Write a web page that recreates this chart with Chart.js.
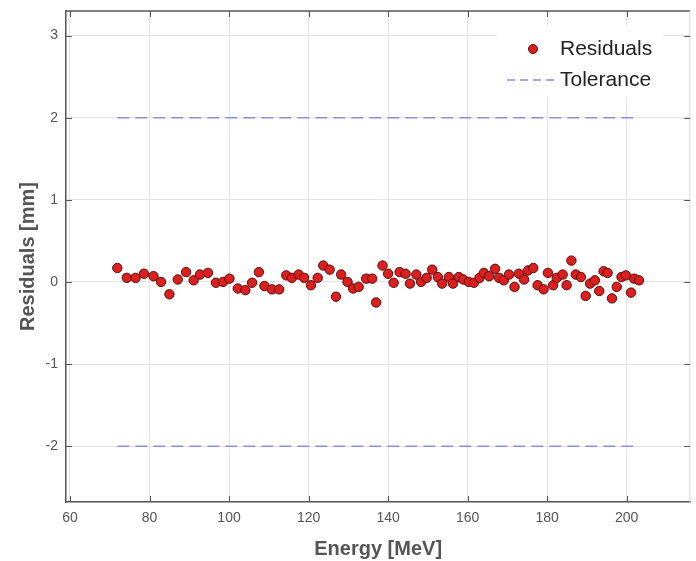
<!DOCTYPE html>
<html>
<head>
<meta charset="utf-8">
<script src="https://cdn.jsdelivr.net/npm/chart.js@4/dist/chart.umd.min.js"></script>
<style>
  html, body { margin: 0; padding: 0; background: #fff; }
  #wrap { width: 696px; height: 561px; position: relative; }
</style>
</head>
<body>
<div id="wrap"><canvas id="chart"></canvas></div>
<script>
// ---------- data ----------
const energy = [
  71.9, 74.3, 76.5, 78.6, 81.0, 82.9, 85.0, 87.1, 89.2, 91.1,
  92.7, 94.7, 96.7, 98.5, 100.1, 102.2, 104.1, 105.8, 107.5, 108.9,
  110.8, 112.6, 114.4, 115.8, 117.5, 118.9, 120.6, 122.3, 123.7, 125.3,
  126.9, 128.2, 129.8, 131.2, 132.6, 134.5, 136.0, 137.0, 138.6, 140.0,
  141.4, 142.9, 144.4, 145.5, 147.1, 148.3, 149.7, 151.1, 152.5, 153.6,
  155.3, 156.3, 157.8, 158.9, 160.3, 161.6, 163.0, 164.1, 165.4, 166.9,
  167.9, 169.1, 170.4, 171.8, 172.9, 174.2, 175.2, 176.5, 177.6, 179.1,
  180.2, 181.5, 182.4, 183.9, 184.9, 186.1, 187.2, 188.5, 189.7, 190.8,
  192.0, 193.1, 194.2, 195.2, 196.3, 197.5, 198.7, 199.8, 201.1, 201.9,
  203.1
];
const residuals = [
  0.17, 0.05, 0.05, 0.10, 0.07, 0.00, -0.15, 0.03, 0.12, 0.02,
  0.09, 0.11, -0.01, 0.00, 0.04, -0.08, -0.10, -0.01, 0.12, -0.05,
  -0.09, -0.09, 0.08, 0.05, 0.09, 0.05, -0.04, 0.05, 0.20, 0.15,
  -0.18, 0.09, 0.00, -0.08, -0.06, 0.04, 0.04, -0.25, 0.20, 0.10,
  -0.01, 0.12, 0.10, -0.02, 0.09, 0.00, 0.05, 0.15, 0.06, -0.02,
  0.06, -0.02, 0.06, 0.03, 0.00, -0.01, 0.05, 0.11, 0.07, 0.16,
  0.05, 0.02, 0.09, -0.06, 0.10, 0.03, 0.14, 0.17, -0.04, -0.09,
  0.11, -0.04, 0.05, 0.09, -0.04, 0.26, 0.09, 0.06, -0.17, -0.02,
  0.02, -0.11, 0.13, 0.11, -0.20, -0.06, 0.06, 0.08, -0.13, 0.04,
  0.02
];
const toleranceLimit = 2;
const toleranceSpan = [71.9, 203.1];
const xTicks = [60, 80, 100, 120, 140, 160, 180, 200];
const yTicks = [-2, -1, 0, 1, 2, 3];
const xRange = [59, 216];
const yRange = [-2.68, 3.3];

const FONT = "'Liberation Sans', Arial, Helvetica, sans-serif";
const AXIS_GREY = "#555";
const GRID_GREY = "#e3e3e3";
const TOL_COLOR = "#8a90d8";

// frame, inward tick marks and the in-plot legend (MATLAB look)
const framePlugin = {
  id: "frame",
  afterDraw(chart) {
    const { ctx, chartArea: a, scales } = chart;
    ctx.save();
    // top frame + faint right edge
    ctx.strokeStyle = AXIS_GREY;
    ctx.lineWidth = 1.5;
    ctx.beginPath();
    ctx.moveTo(a.left, a.top);
    ctx.lineTo(a.right, a.top);
    ctx.stroke();
    ctx.strokeStyle = "#d8d8d8";
    ctx.lineWidth = 1;
    ctx.beginPath();
    ctx.moveTo(a.right - 0.5, a.top);
    ctx.lineTo(a.right - 0.5, a.bottom);
    ctx.stroke();

    // inward ticks
    ctx.strokeStyle = AXIS_GREY;
    ctx.lineWidth = 1;
    ctx.beginPath();
    xTicks.forEach((v) => {
      const px = Math.round(scales.x.getPixelForValue(v)) + 0.5;
      ctx.moveTo(px, a.bottom); ctx.lineTo(px, a.bottom - 6);
      ctx.moveTo(px, a.top); ctx.lineTo(px, a.top + 6);
    });
    yTicks.forEach((v) => {
      const py = Math.round(scales.y.getPixelForValue(v)) + 0.5;
      ctx.moveTo(a.left, py); ctx.lineTo(a.left + 6, py);
      ctx.moveTo(a.right, py); ctx.lineTo(a.right - 6, py);
    });
    ctx.stroke();

    // legend box
    const bx = a.left + 431, by = a.top + 15, bw = 166, bh = 71;
    ctx.fillStyle = "#fff";
    ctx.fillRect(bx, by, bw, bh);

    ctx.beginPath();
    ctx.arc(bx + 36, by + 23, 4.5, 0, Math.PI * 2);
    ctx.fillStyle = "#dc1f1f";
    ctx.fill();
    ctx.strokeStyle = "#5a0a0a";
    ctx.lineWidth = 1;
    ctx.stroke();

    ctx.strokeStyle = TOL_COLOR;
    ctx.lineWidth = 1.5;
    ctx.setLineDash([8, 5]);
    ctx.beginPath();
    ctx.moveTo(bx + 10, by + 54);
    ctx.lineTo(bx + 60, by + 54);
    ctx.stroke();
    ctx.setLineDash([]);

    ctx.fillStyle = "#222";
    ctx.font = "21px " + FONT;
    ctx.textBaseline = "middle";
    ctx.textAlign = "left";
    ctx.fillText("Residuals", bx + 63, by + 23);
    ctx.fillText("Tolerance", bx + 63, by + 54);
    ctx.restore();
  },
};

new Chart(document.getElementById("chart"), {
  type: "scatter",
  data: {
    datasets: [
      {
        label: "Residuals",
        data: energy.map((e, i) => ({ x: e, y: residuals[i] })),
        backgroundColor: "#dc1f1f",
        borderColor: "#5a0a0a",
        borderWidth: 1,
        pointRadius: 4.7,
        order: 1,
      },
      {
        label: "Tolerance",
        type: "line",
        data: toleranceSpan.map((e) => ({ x: e, y: toleranceLimit })),
        borderColor: TOL_COLOR,
        borderWidth: 1.5,
        borderDash: [12, 6],
        pointRadius: 0,
        fill: false,
        order: 2,
      },
      {
        label: "Tolerance (lower)",
        type: "line",
        data: toleranceSpan.map((e) => ({ x: e, y: -toleranceLimit })),
        borderColor: TOL_COLOR,
        borderWidth: 1.5,
        borderDash: [12, 6],
        pointRadius: 0,
        fill: false,
        order: 2,
      },
    ],
  },
  options: {
    responsive: true,
    maintainAspectRatio: false,
    animation: false,
    layout: { padding: { top: 11, right: 3, left: 0, bottom: 0 } },
    plugins: {
      legend: { display: false },
      tooltip: { enabled: false },
    },
    scales: {
      x: {
        type: "linear",
        min: xRange[0],
        max: xRange[1],
        afterBuildTicks: (axis) => { axis.ticks = xTicks.map((v) => ({ value: v })); },
        afterFit: (axis) => { axis.height = 59; axis.paddingLeft = 0; axis.paddingRight = 0; },
        ticks: { color: AXIS_GREY, font: { family: FONT, size: 14 }, padding: 8, maxRotation: 0 },
        grid: { color: GRID_GREY, drawTicks: false },
        border: { color: AXIS_GREY, width: 1.5 },
        title: {
          display: true,
          text: "Energy [MeV]",
          color: AXIS_GREY,
          font: { family: FONT, size: 20, weight: "bold" },
          padding: { top: 4, bottom: 0 },
        },
      },
      y: {
        type: "linear",
        min: yRange[0],
        max: yRange[1],
        afterBuildTicks: (axis) => { axis.ticks = yTicks.map((v) => ({ value: v })); },
        afterFit: (axis) => { axis.width = 66; axis.paddingTop = 0; axis.paddingBottom = 0; },
        ticks: { color: AXIS_GREY, font: { family: FONT, size: 14 }, padding: 8 },
        grid: { color: GRID_GREY, drawTicks: false },
        border: { color: AXIS_GREY, width: 1.5 },
        title: {
          display: true,
          text: "Residuals [mm]",
          color: AXIS_GREY,
          font: { family: FONT, size: 20, weight: "bold" },
          padding: { top: 16, bottom: 0 },
        },
      },
    },
  },
  plugins: [framePlugin],
});
</script>
</body>
</html>
